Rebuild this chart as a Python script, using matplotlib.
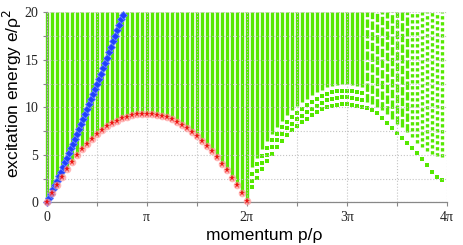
import numpy as np
import matplotlib.pyplot as plt

###################### data ######################
# momentum of the state columns, in units of pi (spacing pi/20)
col_p = np.arange(80) / 20.0

# lowest (hole / type II) branch, red stars, columns 0..40
hole_e = [0.00, 0.95, 1.85, 2.72, 3.52, 4.27, 4.96, 5.60, 6.18, 6.71,
          7.19, 7.62, 8.00, 8.33, 8.61, 8.85, 9.04, 9.18, 9.28, 9.34,
          9.36, 9.32, 9.25, 9.13, 8.97, 8.76, 8.50, 8.20, 7.85, 7.45,
          7.00, 6.50, 5.95, 5.37, 4.75, 4.08, 3.38, 2.62, 1.82, 0.98,
          0.15]

# lowest green row between 2pi and 4pi, columns 41..79
umklapp_e = [1.60, 2.60, 3.50, 4.35, 5.15, 5.85, 6.50, 7.10, 7.60, 8.05,
             8.45, 8.84, 9.19, 9.50, 9.79, 10.05, 10.20, 10.30, 10.37, 10.37,
             10.30, 10.20, 10.10, 9.90, 9.70, 9.40, 8.90, 8.40, 7.80, 7.30,
             6.80, 6.30, 5.75, 5.20, 4.55, 3.90, 3.25, 2.70, 2.40]

# rows of single dots above that lowest row (columns 41..63), and start of dense part
row_gap = [0.7, 1.4]
fill_gap = 2.1

# start of the broken columns near 4pi, columns 64..79
right_lo = [10.6, 10.4, 10.1, 9.7, 9.3, 8.8, 8.3, 7.9, 7.4, 6.9,
            6.3, 5.8, 5.4, 5.1, 4.9, 4.8]

# particle (type I) branch, blue diamonds
blue_p = [0.00, 0.02, 0.04, 0.06, 0.08, 0.10, 0.12, 0.14, 0.16, 0.18,
          0.20, 0.22, 0.24, 0.26, 0.28, 0.30, 0.32, 0.34, 0.36, 0.38,
          0.40, 0.42, 0.44, 0.46, 0.48, 0.50, 0.52, 0.54, 0.56, 0.58,
          0.60, 0.62, 0.64, 0.66, 0.68, 0.70, 0.72, 0.74, 0.76]
blue_e = [0.00, 0.45, 0.91, 1.37, 1.84, 2.31, 2.78, 3.26, 3.74, 4.22,
          4.71, 5.20, 5.70, 6.19, 6.70, 7.20, 7.71, 8.23, 8.74, 9.27,
          9.79, 10.32, 10.85, 11.39, 11.93, 12.47, 13.02, 13.57, 14.12, 14.68,
          15.24, 15.81, 16.38, 16.95, 17.53, 18.11, 18.69, 19.28, 19.70]

x_ticks = [0, 1, 2, 3, 4]
x_labels = ['0', 'π', '2π', '3π', '4π']
y_ticks = [0, 5, 10, 15, 20]

###################### plotting ######################
green = '#55e800'
col_w = 2.4

fig = plt.figure(figsize=(4.63, 2.45), dpi=100)
ax = fig.add_axes([0.1009, 0.1735, 0.8639, 0.7755])

hole_e = np.array(hole_e)
umklapp_e = np.array(umklapp_e)
right_lo = np.array(right_lo)

# solid columns below 2pi
ax.vlines(col_p[:41], hole_e, 20, colors=green, lw=col_w, zorder=1, clip_on=False)

# between 2pi and about 3.2pi
p_mid = col_p[41:64]
lo_mid = umklapp_e[:23]
ax.vlines(p_mid, lo_mid + fill_gap, 20, colors=green, lw=col_w, zorder=1)
for g in row_gap:
    ax.plot(p_mid, lo_mid + g, 's', color=green, ms=2.4, mew=0, zorder=1)

# lowest row 2pi..4pi
ax.plot(col_p[41:], umklapp_e, 's', color=green, ms=2.4, mew=0, zorder=1)

# broken columns near 4pi
ax.vlines(col_p[64:73], right_lo[:9], 20, colors=green, lw=col_w,
          linestyles=[(0, (2.5, 0.7))], zorder=1)
ax.vlines(col_p[73:], right_lo[9:], 20, colors=green, lw=col_w,
          linestyles=[(0, (1, 0.8))], zorder=1)

# particle branch
ax.plot(blue_p, blue_e, 'D', color='#1f40ff', mec='#6a84ff', mew=0.6, ms=3.8,
        zorder=3, clip_on=False)

# hole branch
ax.plot(col_p[:41], hole_e, 'o', color='#ff9a9a', ms=5.5, mew=0, alpha=0.7,
        zorder=4, clip_on=False)
ax.plot(col_p[:41], hole_e, '*', color='#ee1111', ms=4.5, mew=0, zorder=5,
        clip_on=False)

ax.set_xlim(0, 4)
ax.set_ylim(0, 20)
ax.set_xticks(x_ticks)
ax.set_xticklabels(x_labels)
ax.set_xticks([0.5, 1.5, 2.5, 3.5], minor=True)
ax.set_yticks(y_ticks)
ax.set_yticks([2.5, 7.5, 12.5, 17.5], minor=True)

for lab in ax.get_xticklabels() + ax.get_yticklabels():
    lab.set_family('Liberation Serif')
    lab.set_fontsize(10)
    lab.set_color('#222222')

ax.tick_params(which='both', direction='out', length=3, width=0.8, color='#888888', pad=3)
ax.grid(True, which='both', color='#c4c4c4', ls=':', lw=0.8)
ax.set_axisbelow(False)

for s in ['top', 'right']:
    ax.spines[s].set_visible(False)
for s in ['left', 'bottom']:
    ax.spines[s].set_color('#888888')
    ax.spines[s].set_linewidth(0.9)

ax.set_xlabel('momentum p/ρ', family='Liberation Sans', fontsize=12.5)
ax.set_ylabel('excitation energy e/ρ$^2$', family='Liberation Sans', fontsize=12.5)
ax.xaxis.set_label_coords(0.545, -0.135)
ax.yaxis.set_label_coords(-0.057, 0.574)

fig.savefig('out.png', dpi=100)
